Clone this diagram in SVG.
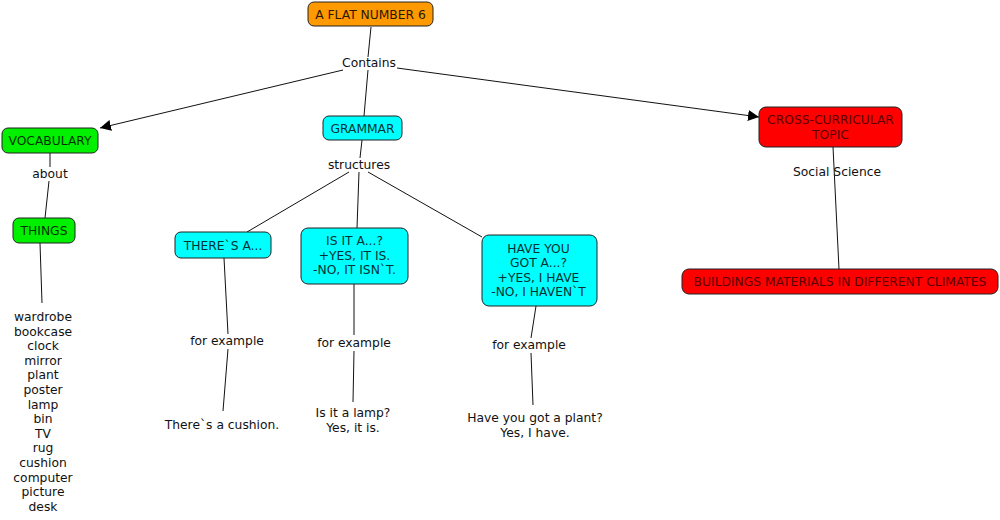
<svg xmlns="http://www.w3.org/2000/svg" width="1000" height="520" viewBox="0 0 1000 520">
<defs>
<marker id="arr" viewBox="0 0 10 10" refX="10" refY="5" markerWidth="11" markerHeight="11" markerUnits="userSpaceOnUse" orient="auto">
<path d="M0,0 L10,5 L0,10 z" fill="#000"/>
</marker>
</defs>
<style>
text{font-family:"DejaVu Sans",Verdana,sans-serif;font-size:12.3px;text-anchor:middle;fill:#111}
.n{stroke:#222;stroke-width:1}
.or{fill:#FF9900}.gr{fill:#00F000}.cy{fill:#00FFFF}.rd{fill:#FF0000}
.tor{fill:#2a1800}.tgr{fill:#003300}.tcy{fill:#003333}.trd{fill:#5a0000}
.c line{stroke:#111;stroke-width:1}
</style>
<rect width="1000" height="520" fill="#fff"/>
<g id="connectors" class="c">
<line x1="371" y1="27" x2="368" y2="57"/>
<line x1="368" y1="70" x2="364" y2="116"/>
<line x1="343" y1="70" x2="100" y2="128" marker-end="url(#arr)"/>
<line x1="397" y1="68" x2="759" y2="117" marker-end="url(#arr)"/>
<line x1="362" y1="140" x2="360" y2="158"/>
<line x1="349" y1="172" x2="247" y2="232"/>
<line x1="359" y1="172" x2="357" y2="228"/>
<line x1="368" y1="172" x2="482" y2="237"/>
<line x1="50" y1="153" x2="50" y2="167"/>
<line x1="49" y1="181" x2="45" y2="218"/>
<line x1="40" y1="243" x2="42" y2="303"/>
<line x1="224" y1="258" x2="228" y2="334"/>
<line x1="228" y1="349" x2="223" y2="411"/>
<line x1="354" y1="284" x2="354" y2="335"/>
<line x1="354" y1="351" x2="353" y2="402"/>
<line x1="536" y1="306" x2="531" y2="338"/>
<line x1="531" y1="353" x2="533" y2="405"/>
<line x1="833" y1="147" x2="839" y2="269"/>
</g>
<g id="root"><rect class="n or" x="308" y="2" width="125" height="24" rx="6"/><text class="tor" x="370.5" y="18.5">A FLAT NUMBER 6</text></g>
<g id="lbl-contains"><text x="369" y="67">Contains</text></g>
<g id="vocabulary"><rect class="n gr" x="2" y="128" width="96" height="25" rx="6"/><text class="tgr" x="50" y="145">VOCABULARY</text></g>
<g id="lbl-about"><text x="50" y="178">about</text></g>
<g id="things"><rect class="n gr" x="13" y="218" width="62" height="25" rx="6"/><text class="tgr" x="44" y="235">THINGS</text></g>
<g id="list">
<text x="43" y="321">wardrobe</text>
<text x="43" y="335.6">bookcase</text>
<text x="43" y="350.2">clock</text>
<text x="43" y="364.8">mirror</text>
<text x="43" y="379.4">plant</text>
<text x="43" y="394">poster</text>
<text x="43" y="408.6">lamp</text>
<text x="43" y="423.2">bin</text>
<text x="43" y="437.8">TV</text>
<text x="43" y="452.4">rug</text>
<text x="43" y="467">cushion</text>
<text x="43" y="481.6">computer</text>
<text x="43" y="496.2">picture</text>
<text x="43" y="510.8">desk</text>
</g>
<g id="grammar"><rect class="n cy" x="323" y="116" width="79" height="24" rx="6"/><text class="tcy" x="362.5" y="132.5">GRAMMAR</text></g>
<g id="lbl-structures"><text x="359" y="169">structures</text></g>
<g id="theres"><rect class="n cy" x="175" y="232" width="96" height="26" rx="6"/><text class="tcy" x="223" y="249.5">THERE`S A...</text></g>
<g id="isit"><rect class="n cy" x="301" y="228" width="107" height="56" rx="7"/>
<text class="tcy" x="354.5" y="245">IS IT A...?</text><text class="tcy" x="354.5" y="259.5">+YES, IT IS.</text><text class="tcy" x="354.5" y="274">-NO, IT ISN`T.</text></g>
<g id="haveyou"><rect class="n cy" x="482" y="235" width="115" height="71" rx="7"/>
<text class="tcy" x="538.5" y="252.5">HAVE YOU</text><text class="tcy" x="538.5" y="267">GOT A...?</text><text class="tcy" x="538.5" y="281.5">+YES, I HAVE</text><text class="tcy" x="538.5" y="296">-NO, I HAVEN`T</text></g>
<g id="lbl-fe1"><text x="227" y="345">for example</text></g>
<g id="lbl-fe2"><text x="354" y="347">for example</text></g>
<g id="lbl-fe3"><text x="529" y="349">for example</text></g>
<g id="ex1"><text x="222" y="429">There`s a cushion.</text></g>
<g id="ex2"><text x="353" y="417">Is it a lamp?</text><text x="353" y="432">Yes, it is.</text></g>
<g id="ex3"><text x="535" y="422">Have you got a plant?</text><text x="535" y="437">Yes, I have.</text></g>
<g id="cross"><rect class="n rd" x="759" y="107" width="143" height="40" rx="7"/>
<text class="trd" x="830.5" y="124">CROSS-CURRICULAR</text><text class="trd" x="830.5" y="138.5">TOPIC</text></g>
<g id="lbl-social"><text x="837" y="176">Social Science</text></g>
<g id="buildings"><rect class="n rd" x="682" y="269" width="316" height="25" rx="7"/><text class="trd" x="840" y="286">BUILDINGS MATERIALS IN DIFFERENT CLIMATES</text></g>
</svg>
